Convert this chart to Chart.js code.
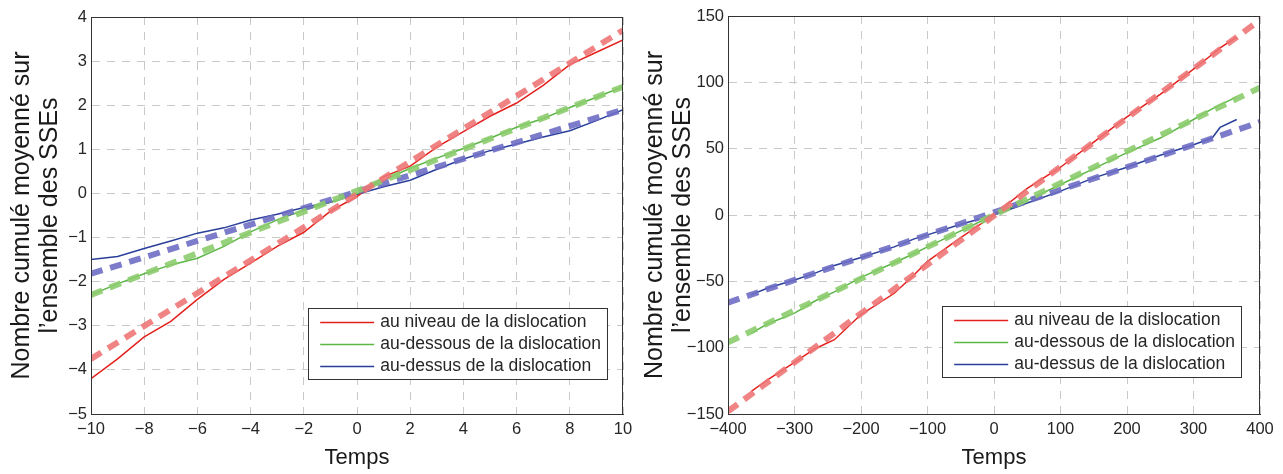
<!DOCTYPE html>
<html>
<head>
<meta charset="utf-8">
<script src="https://cdn.jsdelivr.net/npm/chart.js@4.4.1/dist/chart.umd.min.js"></script>
<style>
  html, body { margin: 0; padding: 0; background: #fff; }
  #wrap { position: relative; width: 1283px; height: 474px; }
  #left { position: absolute; left: 0; top: 0; }
  #right { position: absolute; left: 641px; top: 0; }
</style>
</head>
<body>
<div id="wrap">
  <canvas id="left" width="641" height="474"></canvas>
  <canvas id="right" width="642" height="474"></canvas>
</div>
<script>
// légende
const labels = ['au niveau de la dislocation', 'au-dessous de la dislocation', 'au-dessus de la dislocation'];

// panneau gauche
const tLeft = [-10,-9,-8,-7,-6,-5,-4,-3,-2,-1,0,1,2,3,4,5,6,7,8,9,10];
const redLeft   = [-4.2,-3.75,-3.25,-2.9,-2.4,-1.95,-1.58,-1.2,-0.88,-0.4,-0.07,0.38,0.62,1.05,1.4,1.75,2.05,2.45,2.92,3.2,3.48];
const greenLeft = [-2.3,-2.05,-1.82,-1.62,-1.47,-1.2,-0.87,-0.6,-0.38,-0.2,0.0,0.3,0.57,0.8,1.02,1.25,1.5,1.7,1.95,2.18,2.42];
const blueLeft  = [-1.5,-1.43,-1.25,-1.08,-0.9,-0.78,-0.6,-0.47,-0.32,-0.2,-0.02,0.15,0.3,0.55,0.78,0.97,1.12,1.28,1.42,1.65,1.9];
const fitTLeft = [-10, 10];
const redFitLeft = [-3.75, 3.7];
const greenFitLeft = [-2.3, 2.42];
const blueFitLeft = [-1.82, 1.9];

// panneau droit
const tRight = [-365,-340,-300,-270,-240,-200,-150,-120,-100,-50,0,50,100,150,200,250,300,328,340,365];
const redRight   = [-133,-124,-111,-101,-94,-75,-59,-45,-35,-17,0,20,36,55,74,91,110,121,126,134];
const greenRight = [-89,-82,-74,-65,-58,-47,-36,-29,-24,-12,0,11,23,35,47,58,72,80,83,89];
const blueRight  = [-60,-55,-49,-44,-38,-32,-24,-18,-15,-7,0,9,18,28,36,45,53,58,66,72];
const fitTRight = [-400, 400];
const redFitRight = [-148, 147];
const greenFitRight = [-96, 96];
const blueFitRight = [-66, 70];

const RED = '#e3201c', GREEN = '#5cb646', BLUE = '#2a3f9a';
const RED_F = 'rgba(238,118,118,0.9)', GREEN_F = 'rgba(140,204,110,0.9)', BLUE_F = 'rgba(110,110,196,0.9)';
const FONT = 'Liberation Sans, Arial, sans-serif';

const pts = (xs, ys) => xs.map((x, i) => ({x: x, y: ys[i]}));

function solid(label, xs, ys, color) {
  return {label: label, data: pts(xs, ys), borderColor: color, borderWidth: 1.5,
    pointRadius: 0, tension: 0, order: 1, inLegend: true};
}
function fit(xs, ys, color) {
  return {label: '', data: pts(xs, ys), borderColor: color, borderWidth: 6,
    borderDash: [12, 8], borderCapStyle: 'butt', pointRadius: 0, order: 0};
}

const boxLegend = {
  id: 'boxLegend',
  afterDraw(chart, args, opts) {
    const ctx = chart.ctx, a = chart.chartArea;
    ctx.save();
    // cadre
    ctx.strokeStyle = '#333'; ctx.lineWidth = 1;
    ctx.strokeRect(a.left + 0.5, a.top + 0.5, a.right - a.left - 1, a.bottom - a.top);
    // légende
    ctx.font = '17.5px ' + FONT;
    const items = chart.data.datasets.filter(d => d.inLegend);
    const w = 72 + Math.max(...items.map(d => ctx.measureText(d.label).width)) + 6;
    const right = a.right - opts.rightGap, top = opts.top, h = 71;
    const left = right - w;
    ctx.fillStyle = '#fff';
    ctx.fillRect(left, top, w, h);
    ctx.strokeStyle = '#333';
    ctx.strokeRect(Math.round(left) + 0.5, top + 0.5, Math.round(w), h);
    const rows = [14, 36, 58];
    items.forEach((d, i) => {
      const y = top + rows[i];
      ctx.strokeStyle = d.borderColor; ctx.lineWidth = 1.3;
      ctx.beginPath(); ctx.moveTo(left + 12, y + 0.5); ctx.lineTo(left + 66, y + 0.5); ctx.stroke();
      ctx.fillStyle = '#262626'; ctx.textBaseline = 'middle'; ctx.textAlign = 'left';
      ctx.fillText(d.label, left + 72, y);
    });
    ctx.restore();
  }
};

const minus = v => String(v).replace('-', '\u2212');

function makeChart(id, datasets, xr, yr, area, legendPos) {
  return new Chart(document.getElementById(id), {
    type: 'line',
    data: {datasets: datasets},
    options: {
      responsive: false,
      animation: false,
      layout: {padding: {left: area.padLeft, right: area.padRight, top: area.top, bottom: 0}},
      plugins: {legend: {display: false}, tooltip: {enabled: false}, boxLegend: legendPos},
      scales: {
        x: {
          type: 'linear', min: xr[0], max: xr[1],
          ticks: {stepSize: xr[2], padding: 6, color: '#262626', font: {family: FONT, size: 16.5}, callback: minus, maxRotation: 0},
          grid: {color: '#c9c9c9', lineWidth: 1, drawTicks: false},
          border: {color: '#333', width: 1, dash: [8, 7]},
          title: {display: true, text: 'Temps', color: '#1a1a1a', font: {family: FONT, size: 22}, padding: {top: 0, bottom: 3}},
          afterFit: s => { s.height = 474 - area.bottom; }
        },
        y: {
          type: 'linear', min: yr[0], max: yr[1],
          ticks: {stepSize: yr[2], padding: 4, color: '#262626', font: {family: FONT, size: 16.5}, callback: minus},
          grid: {color: '#c9c9c9', lineWidth: 1, drawTicks: false},
          border: {color: '#333', width: 1, dash: [8, 7]},
          title: {display: true, text: ['Nombre cumulé moyenné sur', 'l\u2019ensemble des SSEs'], color: '#1a1a1a',
            font: {family: FONT, size: 25, lineHeight: 1.12}, padding: {top: area.titlePad, bottom: 0}},
          afterFit: s => { s.width = area.left - area.padLeft; }
        }
      }
    },
    plugins: [boxLegend]
  });
}

makeChart('left', [
  solid(labels[0], tLeft, redLeft, RED),
  solid(labels[1], tLeft, greenLeft, GREEN),
  solid(labels[2], tLeft, blueLeft, BLUE),
  fit(fitTLeft, redFitLeft, RED_F),
  fit(fitTLeft, greenFitLeft, GREEN_F),
  fit(fitTLeft, blueFitLeft, BLUE_F)
], [-10, 10, 2], [-5, 4, 1], {left: 91, padLeft: 0, padRight: 18, top: 17, bottom: 414, titlePad: 8}, {rightGap: 16, top: 308});

makeChart('right', [
  solid(labels[0], tRight, redRight, RED),
  solid(labels[1], tRight, greenRight, GREEN),
  solid(labels[2], tRight, blueRight, BLUE),
  fit(fitTRight, redFitRight, RED_F),
  fit(fitTRight, greenFitRight, GREEN_F),
  fit(fitTRight, blueFitRight, BLUE_F)
], [-400, 400, 100], [-150, 150, 50], {left: 87, padLeft: 0, padRight: 23, top: 16, bottom: 414, titlePad: 0}, {rightGap: 19, top: 306});
</script>
</body>
</html>
